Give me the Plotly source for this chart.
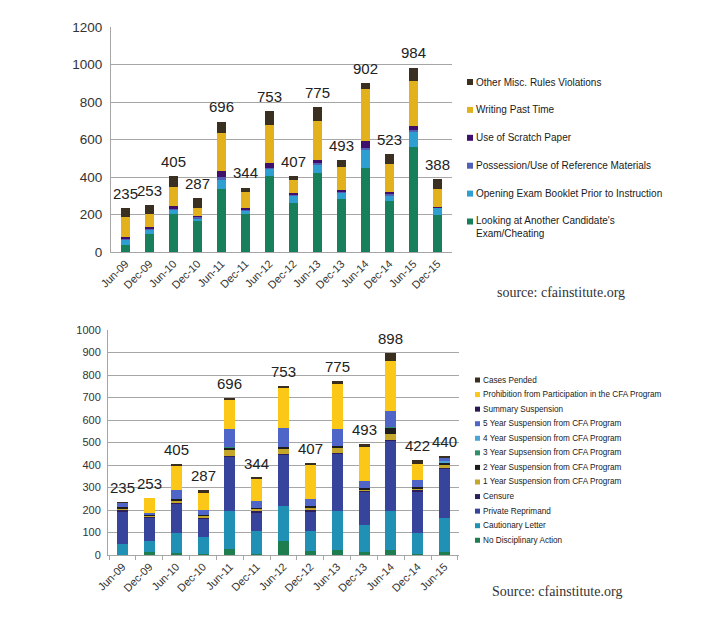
import plotly.graph_objects as go

# ---------------- Top chart data ----------------
periods1 = ["Jun-09", "Dec-09", "Jun-10", "Dec-10", "Jun-11", "Dec-11", "Jun-12",
            "Dec-12", "Jun-13", "Dec-13", "Jun-14", "Dec-14", "Jun-15", "Dec-15"]
looking = [40, 96, 204, 163, 335, 202, 406, 264, 424, 284, 450, 273, 562, 200]
opening = [25, 24, 24, 18, 50, 18, 38, 36, 44, 35, 97, 30, 80, 38]
possession = [8, 5, 6, 6, 14, 5, 6, 6, 5, 4, 6, 8, 8, 1]
scratch = [7, 6, 10, 4, 32, 9, 27, 8, 18, 6, 39, 8, 22, 1]
writing = [105, 73, 105, 46, 205, 88, 200, 71, 209, 127, 275, 151, 240, 98]
other = [50, 49, 56, 50, 60, 22, 76, 22, 75, 37, 35, 53, 72, 50]
totals1 = [235, 253, 405, 287, 696, 344, 753, 407, 775, 493, 902, 523, 984, 388]

names1 = ["Looking at Another Candidate's<br>Exam/Cheating",
          "Opening Exam Booklet Prior to Instruction",
          "Possession/Use of Reference Materials",
          "Use of Scratch Paper",
          "Writing Past Time",
          "Other Misc. Rules Violations"]
series1 = [looking, opening, possession, scratch, writing, other]
colors1 = ["#17805a", "#2e9fd1", "#5060b4", "#3f0f6c", "#e2b11c", "#3a3022"]

# ---------------- Bottom chart data ----------------
periods2 = ["Jun-09", "Dec-09", "Jun-10", "Dec-10", "Jun-11", "Dec-11", "Jun-12",
            "Dec-12", "Jun-13", "Dec-13", "Jun-14", "Dec-14", "Jun-15"]
no_action = [2, 14, 10, 3, 28, 3, 62, 20, 22, 15, 22, 5, 12]
cautionary = [47, 48, 90, 77, 168, 102, 158, 85, 173, 120, 175, 93, 153]
reprimand = [144, 103, 128, 82, 242, 85, 225, 90, 255, 147, 312, 185, 220]
censure = [5, 4, 5, 4, 4, 5, 3, 5, 5, 3, 3, 4, 5]
susp1 = [10, 8, 10, 8, 24, 10, 22, 12, 20, 8, 25, 10, 8]
susp2 = [4, 3, 7, 3, 12, 5, 10, 6, 10, 5, 28, 5, 14]
susp3 = [0, 0, 0, 0, 2, 0, 0, 0, 0, 0, 3, 0, 0]
susp4 = [0, 0, 0, 0, 0, 0, 0, 0, 0, 0, 0, 0, 5]
susp5 = [20, 8, 40, 22, 80, 30, 85, 32, 73, 32, 70, 30, 15]
summary = [0, 0, 0, 0, 0, 0, 0, 0, 0, 0, 0, 0, 0]
prohibition = [0, 65, 107, 75, 130, 100, 177, 154, 202, 152, 224, 73, 0]
pended = [3, 0, 8, 13, 6, 4, 11, 3, 15, 11, 36, 17, 8]
totals2 = [235, 253, 405, 287, 696, 344, 753, 407, 775, 493, 898, 422, 440]

names2 = ["No Disciplinary Action", "Cautionary Letter", "Private Reprimand", "Censure",
          "1 Year Suspension from CFA Program", "2 Year Suspension from CFA Program",
          "3 Year Supsension from CFA Program", "4 Year Suspension from CFA Program",
          "5 Year Suspension from CFA Program", "Summary Suspension",
          "Prohibition from Participation in the CFA Program", "Cases Pended"]
series2 = [no_action, cautionary, reprimand, censure, susp1, susp2, susp3, susp4,
           susp5, summary, prohibition, pended]
colors2 = ["#1e7d4e", "#2190b5", "#37449c", "#2c1f5c", "#c4a72a", "#1d1d1d",
           "#2f8f6a", "#4aa5d6", "#4f66c8", "#2a1850", "#fcc817", "#3a2f1e"]

FONT = "Arial, Liberation Sans, sans-serif"
SERIF = "Times New Roman, Liberation Serif, serif"

# page has an 8px body margin; figure is sized to fit inside the 726x619 window
OFF = 8
W, H = 726 - 2 * OFF, 619 - 2 * OFF


def px(x):
    return (x - OFF) / W


def py(y):
    return 1 - (y - OFF) / H


fig = go.Figure()

for nm, vals, col in zip(names1, series1, colors1):
    fig.add_trace(go.Bar(x=periods1, y=vals, name=nm.replace("<br>", " "), marker_color=col,
                         marker_line_width=0, xaxis="x", yaxis="y", showlegend=False))

for nm, vals, col in zip(names2, series2, colors2):
    fig.add_trace(go.Bar(x=periods2, y=vals, name=nm, marker_color=col,
                         marker_line_width=0, xaxis="x2", yaxis="y2", showlegend=False))

# totals above bars
for p, t in zip(periods1, totals1):
    fig.add_annotation(x=p, y=t, xref="x", yref="y", text=str(t), showarrow=False,
                       yanchor="bottom", yshift=4, font=dict(size=15, color="#222", family=FONT))
for p, t in zip(periods2, totals2):
    fig.add_annotation(x=p, y=t, xref="x2", yref="y2", text=str(t), showarrow=False,
                       yanchor="bottom", yshift=4, font=dict(size=15, color="#222", family=FONT))


def add_legend(names, colors, x_sq, sq, top_y, step, fsize):
    """Legend column (listed top-to-bottom in reverse stacking order)."""
    n = len(names)
    for k in range(n):
        i = n - 1 - k
        yc = top_y + k * step
        lines = names[i].count("<br>") + 1
        ytext = yc + (lines - 1) * fsize * 0.55
        fig.add_shape(type="rect", xref="paper", yref="paper",
                      x0=px(x_sq), x1=px(x_sq + sq),
                      y0=py(yc + sq / 2), y1=py(yc - sq / 2),
                      fillcolor=colors[i], line_width=0)
        fig.add_annotation(x=px(x_sq + sq + 1), y=py(ytext), xref="paper", yref="paper",
                           text=names[i], showarrow=False, xanchor="left", yanchor="middle",
                           align="left", font=dict(size=fsize, color="#1a1a1a", family=FONT))


add_legend(names1, colors1, x_sq=467, sq=6, top_y=82, step=27.9, fsize=10)
add_legend(names2, colors2, x_sq=475, sq=5, top_y=380, step=14.57, fsize=8.2)

fig.add_annotation(x=px(561), y=py(292), xref="paper", yref="paper", xanchor="center",
                   yanchor="middle", text="source: cfainstitute.org", showarrow=False,
                   font=dict(size=14, color="#333", family=SERIF))
fig.add_annotation(x=px(557), y=py(591), xref="paper", yref="paper", xanchor="center",
                   yanchor="middle", text="Source: cfainstitute.org", showarrow=False,
                   font=dict(size=14, color="#333", family=SERIF))

grid = "#a6a6a6"
fig.update_layout(
    width=W, height=H,
    margin=dict(l=0, r=0, t=0, b=0),
    paper_bgcolor="white", plot_bgcolor="white",
    barmode="stack", bargap=0.59,
    font=dict(family=FONT, color="#222"),
    showlegend=False,
    xaxis=dict(domain=[px(111), px(452)], anchor="y", tickangle=-45,
               tickfont=dict(size=11, color="#333"), showline=True, linecolor=grid,
               ticks="", automargin=False),
    yaxis=dict(domain=[py(252), py(27)], anchor="x", range=[0, 1200],
               dtick=200, showgrid=True, gridcolor=grid, showline=True, linecolor=grid,
               ticklabelstandoff=5,
               tickfont=dict(size=13.5, color="#333"), zeroline=False, automargin=False),
    xaxis2=dict(domain=[px(108), px(459)], anchor="y2", tickangle=-45,
                tickfont=dict(size=11, color="#333"), showline=True, linecolor=grid,
                ticks="outside", tickson="boundaries", ticklen=4, tickcolor=grid,
                automargin=False),
    yaxis2=dict(domain=[py(555), py(330)], anchor="x2", range=[0, 1000],
                dtick=100, showgrid=True, gridcolor=grid, showline=True, linecolor=grid,
                ticklabelstandoff=4,
                tickfont=dict(size=11, color="#333"), zeroline=False, automargin=False),
)

fig.write_html("out.html")
